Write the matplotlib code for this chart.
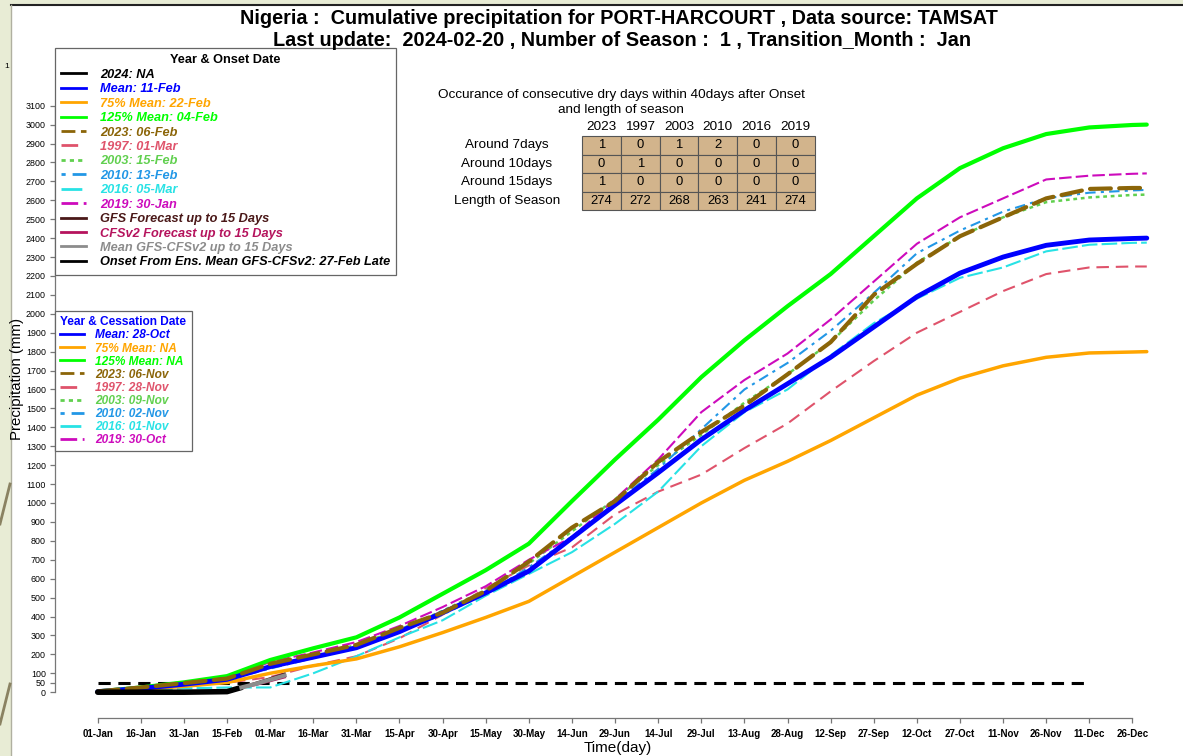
import matplotlib.pyplot as plt
from matplotlib.lines import Line2D
from matplotlib.patches import Rectangle

W, H = 1183, 756
FONT = 'Liberation Sans'
plt.rcParams['font.family'] = [FONT, 'DejaVu Sans']


def fx(x):
    return x / W


def fy(y):
    return 1 - y / H


# ---- data (day of year, cumulative mm) ----
days = [1, 16, 31, 46, 61, 76, 91, 106, 121, 136, 151, 166, 181, 196, 211,
        226, 241, 256, 271, 286, 301, 316, 331, 346, 361, 366]
mean_mm = [3, 20, 42, 68, 135, 185, 235, 320, 420, 525, 640, 815, 990, 1160, 1335,
           1490, 1630, 1770, 1930, 2090, 2215, 2300, 2362, 2390, 2398, 2400]
mean125_mm = [4, 25, 52, 85, 170, 232, 290, 395, 520, 645, 785, 1010, 1230, 1440, 1665,
              1860, 2040, 2210, 2410, 2610, 2770, 2875, 2950, 2985, 2998, 3000]
mean75_mm = [2, 15, 31, 51, 100, 140, 176, 240, 315, 395, 480, 610, 740, 870, 1000,
             1120, 1220, 1330, 1450, 1570, 1660, 1725, 1770, 1793, 1798, 1800]
y2023 = [4, 25, 48, 72, 150, 200, 250, 340, 420, 535, 690, 870, 1010, 1217, 1375,
         1515, 1680, 1850, 2100, 2264, 2410, 2510, 2610, 2660, 2665, 2665]
y1997 = [2, 15, 30, 50, 80, 140, 190, 285, 410, 550, 670, 765, 940, 1060, 1150,
         1290, 1420, 1590, 1750, 1900, 2010, 2120, 2210, 2245, 2250, 2250]
y2003 = [3, 20, 42, 65, 130, 190, 250, 330, 430, 540, 680, 850, 1020, 1200, 1360,
         1530, 1680, 1850, 2070, 2270, 2410, 2510, 2590, 2615, 2628, 2630]
y2010 = [3, 20, 42, 65, 125, 180, 240, 320, 410, 520, 660, 820, 1000, 1180, 1390,
         1600, 1740, 1910, 2110, 2320, 2440, 2540, 2610, 2640, 2652, 2655]
y2016 = [2, 10, 20, 25, 25, 100, 190, 290, 380, 510, 625, 740, 890, 1060, 1300,
         1480, 1600, 1780, 1950, 2080, 2190, 2245, 2330, 2365, 2375, 2376]
y2019 = [3, 22, 45, 75, 160, 210, 265, 350, 450, 560, 700, 820, 1020, 1230, 1480,
         1650, 1790, 1970, 2170, 2370, 2510, 2610, 2710, 2730, 2740, 2742]

obs_days = [1, 16, 31, 46, 51]
obs2024 = [0, 0, 0, 3, 25]
fc_days = [51, 56, 61, 66]
gfs_fc = [25, 48, 72, 96]
cfs_fc = [25, 40, 60, 80]
ens_fc = [25, 44, 66, 88]

thresh_days = [1, 346]
thresh_mm = [50, 50]

tick_days = list(range(1, 362, 15))
tick_labels = ['01-Jan', '16-Jan', '31-Jan', '15-Feb', '01-Mar', '16-Mar', '31-Mar',
               '15-Apr', '30-Apr', '15-May', '30-May', '14-Jun', '29-Jun', '14-Jul',
               '29-Jul', '13-Aug', '28-Aug', '12-Sep', '27-Sep', '12-Oct', '27-Oct',
               '11-Nov', '26-Nov', '11-Dec', '26-Dec']
y_ticks = [0, 50] + list(range(100, 3101, 100))

onset_labels = ['2024: NA', 'Mean: 11-Feb', '75% Mean: 22-Feb', '125% Mean: 04-Feb',
                '2023: 06-Feb', '1997: 01-Mar', '2003: 15-Feb', '2010: 13-Feb',
                '2016: 05-Mar', '2019: 30-Jan', 'GFS Forecast up to 15 Days',
                'CFSv2 Forecast up to 15 Days', 'Mean GFS-CFSv2 up to 15 Days',
                'Onset From Ens. Mean GFS-CFSv2: 27-Feb Late']
cess_labels = ['Mean: 28-Oct', '75% Mean: NA', '125% Mean: NA', '2023: 06-Nov',
               '1997: 28-Nov', '2003: 09-Nov', '2010: 02-Nov', '2016: 01-Nov',
               '2019: 30-Oct']

table_years = ['2023', '1997', '2003', '2010', '2016', '2019']
row_labels = ['Around 7days', 'Around 10days', 'Around 15days', 'Length of Season']
dry7 = [1, 0, 1, 2, 0, 0]
dry10 = [0, 1, 0, 0, 0, 0]
dry15 = [1, 0, 0, 0, 0, 0]
season_len = [274, 272, 268, 263, 241, 274]

# ---- styles ----
C = {'2024': 'black', 'mean': 'blue', '75': '#FFA500', '125': '#00FF00',
     '2023': '#8B6508', '1997': '#DF536B', '2003': '#61D04F', '2010': '#2297E6',
     '2016': '#28E2E5', '2019': '#CD0BBC', 'gfs': '#4a1818', 'cfs': '#b5135d',
     'ens': '#8c8c8c', 'onset': 'black'}
LS = {'2023': (0, (5, 2)), '1997': (0, (6, 3.3)), '2003': (0, (1.5, 1.5)),
      '2010': (0, (1.5, 2.5, 5, 2.5)), '2016': (0, (7.5, 2)), '2019': (0, (6, 2))}

fig = plt.figure(figsize=(W / 100, H / 100), dpi=100)
fig.patch.set_facecolor('#e8ecd5')
fig.add_artist(Rectangle((fx(11), fy(756)), (W - 11) / W, (756 - 5) / H,
                         transform=fig.transFigure, facecolor='white',
                         edgecolor='none', zorder=-10))
fig.add_artist(Line2D([fx(11), 1], [fy(5), fy(5)], color='#222222', lw=1.5))
fig.add_artist(Line2D([fx(11), fx(11)], [fy(5), 0], color='#b0b0a0', lw=1))
# slide decoration on the left strip
fig.add_artist(Line2D([0, fx(10)], [fy(524), fy(484)], color='#8a8262', lw=2))
fig.add_artist(Line2D([0, fx(10)], [fy(724), fy(684)], color='#8a8262', lw=2))
fig.text(fx(7), fy(66), '1', fontsize=6, ha='center', va='center')

ax = fig.add_axes([fx(55), fy(718), (1160 - 55) / W, (718 - 50) / H])
ax.patch.set_alpha(0)
ax.set_xlim(-13.86, 370.6)
ax.set_ylim(-136.4, 3394.3)

ax.plot(thresh_days, thresh_mm, color='black', lw=2.2, ls=(0, (4, 2.5)))
for key, vals in [('1997', y1997), ('2003', y2003), ('2010', y2010),
                  ('2016', y2016), ('2019', y2019)]:
    lw = 1.8 if key == '2003' else 1.5
    ax.plot(days, vals, color=C[key], lw=lw, ls=LS[key])
ax.plot(days, mean125_mm, color=C['125'], lw=3.0, solid_capstyle='round')
ax.plot(days, mean75_mm, color=C['75'], lw=2.5, solid_capstyle='round')
ax.plot(days, mean_mm, color=C['mean'], lw=3.5, solid_capstyle='round')
ax.plot(days, y2023, color=C['2023'], lw=3.0, ls=LS['2023'], dash_capstyle='round')
ax.plot(obs_days, obs2024, color=C['2024'], lw=4.0, solid_capstyle='round')
ax.plot(fc_days, gfs_fc, color=C['gfs'], lw=2.0)
ax.plot(fc_days, cfs_fc, color=C['cfs'], lw=2.0)
ax.plot(fc_days, ens_fc, color=C['ens'], lw=3.0)

for s in ['top', 'right']:
    ax.spines[s].set_visible(False)
ax.spines['left'].set_bounds(0, 3100)
ax.spines['bottom'].set_bounds(1, 361)
for s in ['left', 'bottom']:
    ax.spines[s].set_color('#777777')
    ax.spines[s].set_linewidth(0.9)

ax.set_yticks(y_ticks)
ax.set_yticklabels([str(v) for v in y_ticks], fontsize=6.4)
ax.set_xticks(tick_days)
ax.set_xticklabels(tick_labels, fontsize=7, fontweight='bold')
ax.tick_params(axis='y', length=3.6, width=0.9, color='#777777', pad=3)
ax.tick_params(axis='x', length=3.6, width=0.9, color='#777777', pad=4)

fig.text(fx(17), fy(379), 'Precipitation (mm)', rotation=90, fontsize=10.8,
         ha='center', va='center')
fig.text(fx(618), fy(748), 'Time(day)', fontsize=11, ha='center', va='center')
fig.text(fx(619), fy(18), 'Nigeria :  Cumulative precipitation for PORT-HARCOURT , '
         'Data source: TAMSAT', fontsize=14.3, fontweight='bold', ha='center', va='center')
fig.text(fx(622), fy(40), 'Last update:  2024-02-20 , Number of Season :  1 , '
         'Transition_Month :  Jan', fontsize=14.3, fontweight='bold', ha='center', va='center')

# ---- onset legend ----
keys1 = ['2024', 'mean', '75', '125', '2023', '1997', '2003', '2010', '2016', '2019',
         'gfs', 'cfs', 'ens', 'onset']
h1 = [Line2D([], [], color=C[k], lw=2, ls=LS.get(k, '-')) for k in keys1]
leg1 = ax.legend(h1, onset_labels, title='Year & Onset Date', loc='upper left',
                 bbox_to_anchor=(fx(55), fy(48)), bbox_transform=fig.transFigure,
                 prop=dict(family=FONT, weight='bold', style='italic', size=9.2),
                 title_fontproperties=dict(family=FONT, weight='bold', size=9.2),
                 frameon=True, fancybox=False, edgecolor='#666666', framealpha=1,
                 borderaxespad=0, handlelength=1.9, handletextpad=1.1,
                 labelspacing=0.19, borderpad=0.5)
leg1.get_frame().set_linewidth(0.9)
for t, k in zip(leg1.get_texts(), keys1):
    t.set_color(C[k])
ax.add_artist(leg1)

# ---- cessation legend ----
keys2 = ['mean', '75', '125', '2023', '1997', '2003', '2010', '2016', '2019']
h2 = [Line2D([], [], color=C[k], lw=2, ls=LS.get(k, '-')) for k in keys2]
leg2 = ax.legend(h2, cess_labels, title='Year & Cessation Date', loc='upper left',
                 bbox_to_anchor=(fx(55), fy(311)), bbox_transform=fig.transFigure,
                 prop=dict(family=FONT, weight='bold', style='italic', size=8.6),
                 title_fontproperties=dict(family=FONT, weight='bold', size=8.6),
                 frameon=True, fancybox=False, edgecolor='#666666', framealpha=1,
                 borderaxespad=0, handlelength=2.0, handletextpad=0.9,
                 labelspacing=0.09, borderpad=0.45, alignment='left')
leg2.get_frame().set_linewidth(0.9)
leg2.get_title().set_color('blue')
for t, k in zip(leg2.get_texts(), keys2):
    t.set_color(C[k])

# ---- dry-days table ----
fig.text(fx(621), fy(95), 'Occurance of consecutive dry days within 40days after Onset',
         fontsize=9.7, ha='center', va='center')
fig.text(fx(621), fy(110), 'and length of season', fontsize=9.7, ha='center', va='center')
cell_left, cell_top, cell_w, cell_h = 582, 136, 38.8, 18.5
for j, yr in enumerate(table_years):
    fig.text(fx(cell_left + (j + 0.5) * cell_w), fy(127), yr, fontsize=9.7,
             ha='center', va='center')
for i, (lab, row) in enumerate(zip(row_labels, [dry7, dry10, dry15, season_len])):
    yc = cell_top + (i + 0.5) * cell_h
    fig.text(fx(507), fy(yc), lab, fontsize=9.7, ha='center', va='center')
    for j, v in enumerate(row):
        x0 = cell_left + j * cell_w
        fig.add_artist(Rectangle((fx(x0), fy(cell_top + (i + 1) * cell_h)),
                                 cell_w / W, cell_h / H, transform=fig.transFigure,
                                 facecolor='#D2B48C', edgecolor='#555555', lw=0.8))
        fig.text(fx(x0 + cell_w / 2), fy(yc), str(v), fontsize=9.4,
                 ha='center', va='center')

fig.savefig('out.png', dpi=100)
